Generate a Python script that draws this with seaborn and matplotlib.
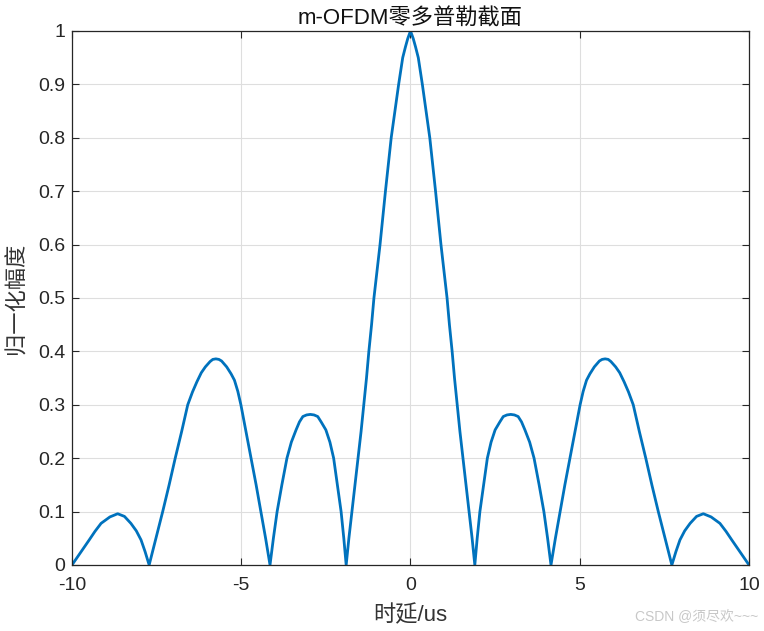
import numpy as np
import pandas as pd
import seaborn as sns
from matplotlib import pyplot as plt

# values (delay in us, normalised amplitude)
delay = [-10.0, -9.75, -9.49, -9.32, -9.14, -8.88, -8.65, -8.45, -8.26, -8.10, -7.96, -7.84,
         -7.72, -7.52, -7.32, -7.13, -6.95, -6.76, -6.58, -6.44, -6.31, -6.18, -6.06, -5.92,
         -5.84, -5.75, -5.66, -5.58, -5.43, -5.30, -5.20, -5.10, -5.01, -4.86, -4.71, -4.56,
         -4.42, -4.28,
         -4.15, -4.05, -3.94, -3.80, -3.65, -3.52, -3.38, -3.28, -3.18, -3.07, -2.96, -2.85,
         -2.74, -2.64, -2.50, -2.38, -2.27, -2.16, -2.05, -1.97,
         -1.90, -1.82, -1.73, -1.64, -1.55, -1.46, -1.38, -1.30, -1.23, -1.15, -1.08, -0.99,
         -0.90, -0.82, -0.74, -0.57, -0.46, -0.35, -0.23, -0.15, -0.08,
         0.0,
         0.08, 0.15, 0.23, 0.35, 0.46, 0.57, 0.74, 0.82, 0.90, 0.99, 1.08, 1.15, 1.23, 1.30,
         1.38, 1.46, 1.55, 1.64, 1.73, 1.82, 1.90,
         1.97, 2.05, 2.16, 2.27, 2.38, 2.50, 2.64, 2.74, 2.85, 2.96, 3.07, 3.18, 3.28, 3.38,
         3.52, 3.65, 3.80, 3.94, 4.05, 4.15,
         4.28, 4.42, 4.56, 4.71, 4.86, 5.01, 5.10, 5.20, 5.30, 5.43, 5.58, 5.66, 5.75, 5.84,
         5.92, 6.06, 6.18, 6.31, 6.44, 6.58, 6.76, 6.95, 7.13, 7.32, 7.52, 7.72,
         7.84, 7.96, 8.10, 8.26, 8.45, 8.65, 8.88, 9.14, 9.32, 9.49, 9.75, 10.0]
amp = [0.0, 0.023, 0.047, 0.063, 0.078, 0.090, 0.096, 0.091, 0.078, 0.064, 0.047, 0.025,
       0.0, 0.05, 0.1, 0.15, 0.2, 0.25, 0.3, 0.324, 0.343, 0.360, 0.371, 0.381,
       0.385, 0.386, 0.385, 0.382, 0.371, 0.358, 0.346, 0.325, 0.3, 0.25, 0.2, 0.15,
       0.1, 0.05,
       0.0, 0.05, 0.1, 0.15, 0.2, 0.23, 0.253, 0.268, 0.278, 0.281, 0.282, 0.281,
       0.278, 0.268, 0.253, 0.23, 0.2, 0.15, 0.1, 0.05,
       0.0, 0.05, 0.1, 0.15, 0.2, 0.25, 0.3, 0.35, 0.4, 0.45, 0.5, 0.55,
       0.6, 0.65, 0.7, 0.8, 0.85, 0.9, 0.95, 0.97, 0.986,
       1.0,
       0.986, 0.97, 0.95, 0.9, 0.85, 0.8, 0.7, 0.65, 0.6, 0.55, 0.5, 0.45, 0.4, 0.35,
       0.3, 0.25, 0.2, 0.15, 0.1, 0.05, 0.0,
       0.05, 0.1, 0.15, 0.2, 0.23, 0.253, 0.268, 0.278, 0.281, 0.282, 0.281, 0.278, 0.268, 0.253,
       0.23, 0.2, 0.15, 0.1, 0.05, 0.0,
       0.05, 0.1, 0.15, 0.2, 0.25, 0.3, 0.325, 0.346, 0.358, 0.371, 0.382, 0.385, 0.386, 0.385,
       0.381, 0.371, 0.360, 0.343, 0.324, 0.3, 0.25, 0.2, 0.15, 0.1, 0.05, 0.0,
       0.025, 0.047, 0.064, 0.078, 0.091, 0.096, 0.090, 0.078, 0.063, 0.047, 0.023, 0.0]

xticks = [-10, -5, 0, 5, 10]
yticks = [0, 0.1, 0.2, 0.3, 0.4, 0.5, 0.6, 0.7, 0.8, 0.9, 1]
ytick_labels = ["0", "0.1", "0.2", "0.3", "0.4", "0.5", "0.6", "0.7", "0.8", "0.9", "1"]

df = pd.DataFrame({"delay": delay, "amp": amp})

sns.set_theme(style="white")
plt.rcParams['font.family'] = ['Liberation Sans', 'Noto Sans CJK SC']

fig = plt.figure(figsize=(7.64, 6.31), dpi=100)
ax = fig.add_axes([0.0942, 0.1046, 0.8862, 0.8463])

sns.lineplot(data=df, x="delay", y="amp", color="#0072BD", linewidth=2.0, ax=ax)

ax.set_xlim(-10, 10)
ax.set_ylim(0, 1)
ax.set_xticks(xticks)
ax.set_xticklabels([str(t) for t in xticks])
ax.set_yticks(yticks)
ax.set_yticklabels(ytick_labels)
ax.grid(True, color="#dedede", linewidth=0.8)
ax.set_axisbelow(True)

ax.tick_params(direction="in", bottom=True, left=True, top=True, right=True,
               length=5, width=0.8, colors="#262626", labelsize=14)
ax.tick_params(axis="x", pad=9)
ax.tick_params(axis="y", pad=5)
for s in ax.spines.values():
    s.set_color("#262626")
    s.set_linewidth(0.9)

ax.set_title("m-OFDM零多普勒截面", fontsize=16, color="#111111", pad=5)
ax.set_xlabel("时延/us", fontsize=16, color="#333333")
ax.set_ylabel("归一化幅度", fontsize=16, color="#333333")
ax.xaxis.set_label_coords(0.5, -0.075)
ax.yaxis.set_label_coords(-0.066, 0.5)

fig.text(0.993, 0.022, "CSDN @须尽欢~~~", ha="right", va="center",
         color="#c8c8c8", fontsize=10)

fig.savefig("out.png", dpi=100)
